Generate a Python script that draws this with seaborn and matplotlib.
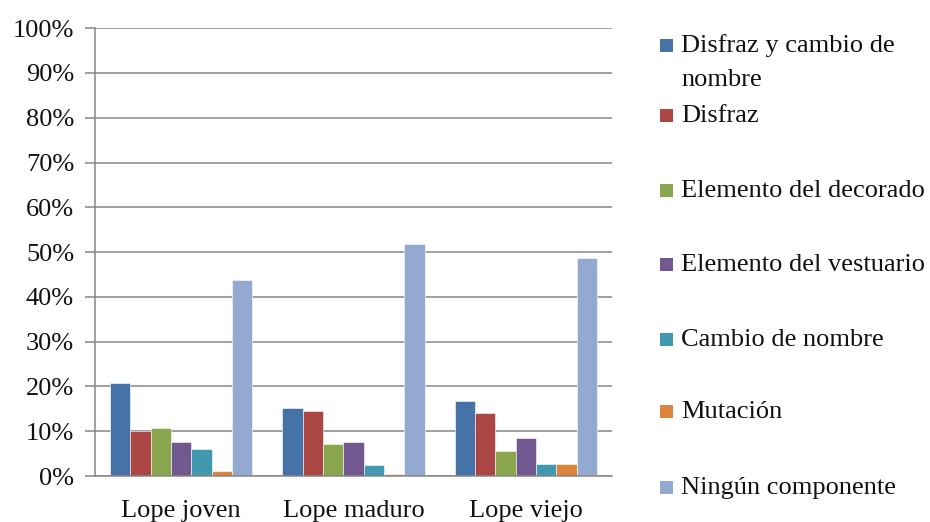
import matplotlib
matplotlib.use("Agg")
import matplotlib.pyplot as plt
from matplotlib.patches import Rectangle
import seaborn as sns
import pandas as pd

groups = ["Lope joven", "Lope maduro", "Lope viejo"]
series = ["Disfraz y cambio de nombre", "Disfraz", "Elemento del decorado",
          "Elemento del vestuario", "Cambio de nombre", "Mutación", "Ningún componente"]
legend_labels = ["Disfraz y cambio de\nnombre", "Disfraz", "Elemento del decorado",
                 "Elemento del vestuario", "Cambio de nombre", "Mutación", "Ningún componente"]
disfraz_cambio = [20.8, 15.1, 16.8]
disfraz = [10.1, 14.5, 14.1]
decorado = [10.7, 7.2, 5.7]
vestuario = [7.6, 7.6, 8.4]
cambio_nombre = [6.0, 2.5, 2.8]
mutacion = [1.2, 0.5, 2.8]
ninguno = [43.7, 51.8, 48.6]
values = [disfraz_cambio, disfraz, decorado, vestuario, cambio_nombre, mutacion, ninguno]
yticks = [0, 10, 20, 30, 40, 50, 60, 70, 80, 90, 100]
colors = ["#4572A7", "#AA4643", "#89A54E", "#71588F", "#4198AF", "#DB843D", "#93A9CF"]

rows = []
for s, vals in zip(series, values):
    for g, v in zip(groups, vals):
        rows.append({"grupo": g, "serie": s, "valor": v})
df = pd.DataFrame(rows)

sns.set_theme(style="white")
plt.rcParams["font.family"] = ["Liberation Serif", "DejaVu Serif"]
FS = 19
TXT = "#111111"

fig = plt.figure(figsize=(9.3, 5.22), dpi=100)
ax = fig.add_axes([0.102, 0.088, 0.556, 0.858])

sns.barplot(data=df, x="grupo", y="valor", hue="serie", order=groups, hue_order=series,
            palette=colors, width=0.826, saturation=1, ax=ax, legend=False,
            edgecolor="white", linewidth=0.4)

ax.set_ylim(0, 100)
ax.set_xlim(-0.5, 2.5)
ax.set_yticks(yticks)
ax.set_yticklabels([f"{t}%" for t in yticks], fontsize=FS, color=TXT)
ax.set_xticks(range(len(groups)))
ax.set_xticklabels(groups, fontsize=FS, color=TXT)
ax.set_xticks([-0.5, 0.5, 1.5, 2.5], minor=True)
ax.tick_params(axis="x", which="major", length=0, pad=17)
ax.tick_params(axis="x", which="minor", length=8, width=1.1, color="#868686", direction="out")
ax.tick_params(axis="y", length=7, width=1.1, color="#868686", direction="out", pad=8, left=True)
ax.set_xlabel("")
ax.set_ylabel("")
ax.yaxis.grid(True, color="#868686", linewidth=1.1)
ax.set_axisbelow(True)
for side in ["top", "right"]:
    ax.spines[side].set_visible(False)
for side in ["left", "bottom"]:
    ax.spines[side].set_color("#868686")
    ax.spines[side].set_linewidth(1.1)

# legend (manual, Excel-style layout)
W, H = 930.0, 522.0
centers = [45, 115, 190, 264, 339, 411, 487]
for lab, col, cy in zip(legend_labels, colors, centers):
    fig.patches.append(Rectangle((660 / W, 1 - (cy + 6.5) / H), 13 / W, 13 / H,
                                 transform=fig.transFigure, facecolor=col,
                                 edgecolor="none", figure=fig))
    nlines = lab.count("\n")
    base = cy + 7 + 34 * nlines
    fig.text(681 / W, 1 - base / H, lab, fontsize=FS, color=TXT,
             va="baseline", ha="left", linespacing=1.7)

fig.savefig("out.png", dpi=100, facecolor="white")
